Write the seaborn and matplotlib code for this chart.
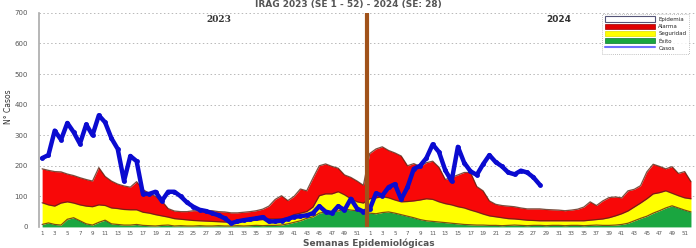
import numpy as np
import pandas as pd
import matplotlib
matplotlib.use("Agg")
import matplotlib.pyplot as plt
import seaborn as sns
from matplotlib.patches import Patch
from matplotlib.lines import Line2D

# canal endemico 2023 (SE 1-52) + 2024 (SE 1-52)
exito_2023 = [8, 13, 8, 6, 25, 30, 20, 10, 6, 15, 22, 10, 8, 6, 6, 8, 5, 4, 3, 5,
              6, 3, 4, 3, 3, 4, 3, 3, 4, 3, 3, 4, 3, 4, 5, 4, 5, 5, 6, 10,
              15, 20, 28, 33, 45, 49, 49, 52, 59, 55, 53, 52]
exito_2024 = [45, 43, 47, 49, 45, 40, 35, 30, 24, 20, 18, 16, 14, 12, 10, 8, 7, 6, 6, 5,
              5, 4, 5, 6, 5, 4, 5, 5, 4, 5, 5, 4, 5, 5, 4, 5, 6, 5, 5, 6,
              8, 12, 20, 28, 35, 45, 53, 62, 69, 62, 55, 49]
seguridad_2023 = [79, 72, 68, 78, 82, 78, 72, 68, 66, 72, 70, 62, 60, 57, 56, 56, 48, 45, 40, 36,
                  32, 27, 25, 23, 21, 20, 19, 18, 17, 16, 16, 17, 18, 20, 22, 24, 26, 26, 26, 30,
                  40, 45, 50, 65, 102, 108, 108, 115, 105, 92, 82, 78]
seguridad_2024 = [92, 95, 99, 95, 88, 82, 83, 85, 88, 92, 90, 82, 76, 72, 66, 62, 55, 49, 42, 36,
                  33, 30, 27, 26, 24, 22, 21, 20, 20, 20, 20, 20, 20, 20, 20, 22, 24, 26, 30, 36,
                  43, 52, 65, 78, 92, 108, 112, 118, 110, 102, 95, 92]
alarma_2023 = [190, 185, 181, 180, 173, 168, 161, 155, 150, 194, 165, 150, 140, 134, 130, 148, 122, 110, 100, 85,
               60, 52, 50, 50, 53, 53, 53, 53, 50, 49, 46, 46, 48, 50, 53, 58, 68, 90, 102, 86,
               100, 124, 118, 160, 200, 206, 198, 192, 170, 162, 150, 136]
alarma_2024 = [240, 255, 262, 250, 242, 232, 200, 207, 198, 210, 215, 195, 155, 162, 170, 178, 178, 132, 118, 85,
               74, 70, 68, 66, 62, 59, 59, 59, 57, 56, 55, 53, 55, 58, 65, 82, 70, 85, 96, 98,
               95, 118, 123, 135, 180, 205, 198, 190, 197, 175, 181, 148]

casos_2023 = [225, 235, 315, 285, 340, 310, 272, 335, 300, 365, 342, 290, 255, 150, 232, 215, 108, 108, 115, 85,
              115, 115, 100, 80, 66, 56, 52, 45, 38, 28, 12, 18, 22, 25, 28, 32, 18, 18, 20, 26,
              33, 35, 38, 45, 68, 50, 45, 68, 55, 92, 60, 50]
casos_2024 = [58, 110, 102, 130, 140, 90, 130, 190, 200, 225, 270, 245, 185, 150, 262, 210, 182, 170, 205, 235,
              212, 198, 178, 172, 184, 178, 162, 138]

semanas = list(range(1, 53))

canal = pd.DataFrame({
    "idx": np.arange(104),
    "exito": exito_2023 + exito_2024,
    "seguridad": seguridad_2023 + seguridad_2024,
    "alarma": alarma_2023 + alarma_2024,
})
casos = pd.DataFrame({"idx": np.arange(len(casos_2023) + len(casos_2024)),
                      "casos": casos_2023 + casos_2024})

sns.set_style("white")
plt.rcParams["font.family"] = ["DejaVu Sans"]

fig = plt.figure(figsize=(6.96, 2.48), dpi=100)
ax = fig.add_axes([0.056, 0.085, 0.944, 0.863])

edge = "#5a2410"
ax.fill_between(canal["idx"], 0, canal["exito"], color="#1aa640", lw=0)
ax.fill_between(canal["idx"], canal["exito"], canal["seguridad"], color="#ffff00", lw=0)
ax.fill_between(canal["idx"], canal["seguridad"], canal["alarma"], color="#f80808", lw=0)
for col in ["exito", "seguridad", "alarma"]:
    sns.lineplot(data=canal, x="idx", y=col, ax=ax, color=edge, lw=0.9, alpha=0.8)

sns.lineplot(data=casos, x="idx", y="casos", ax=ax, color="#0a0ad0", lw=3.2,
             marker="o", markersize=3.5, markeredgewidth=0)

ax.axvline(51.5, ymin=0, ymax=1, color="#a0521a", lw=3, zorder=5)

ax.set_xlim(-0.5, 103.8)
ax.set_ylim(0, 700)
ax.set_yticks(range(0, 701, 100))
ax.yaxis.grid(True, ls=(0, (1.5, 2.5)), color="#b8b8b8", lw=0.7)
ax.set_axisbelow(True)

ticks = [w - 1 for w in semanas if w % 2 == 1] + [52 + w - 1 for w in semanas if w % 2 == 1]
labels = [str(w) for w in semanas if w % 2 == 1] * 2
ax.set_xticks(ticks)
ax.set_xticklabels(labels, fontsize=4, color="#555555")
ax.tick_params(axis="y", labelsize=5, labelcolor="#555555", length=0, pad=8)
ax.tick_params(axis="x", length=0, pad=3)
ax.set_xlabel("")
ax.set_ylabel("")

for s in ["top", "right", "bottom"]:
    ax.spines[s].set_visible(False)
ax.spines["left"].set_color("#aaaaaa")
ax.spines["left"].set_linewidth(1.2)

ax.text(28, 680, "2023", fontsize=6.5, fontweight="bold", color="#333333", ha="center", va="center",
        family="DejaVu Serif")
ax.text(82, 680, "2024", fontsize=6.5, fontweight="bold", color="#333333", ha="center", va="center")

fig.text(0.50, 1.0, "IRAG 2023 (SE 1 - 52) - 2024 (SE: 28)", ha="center", va="top",
         fontsize=6.5, fontweight="bold", color="#555555")
fig.text(0.53, 0.02, "Semanas Epidemiológicas", ha="center", va="center",
         fontsize=6.5, fontweight="bold", color="#555555")
fig.text(0.012, 0.57, "N° Casos", ha="center", va="center", rotation=90,
         fontsize=5.5, color="#333333")

handles = [
    Patch(facecolor="white", edgecolor="#555577", lw=0.8, label="Epidemia"),
    Patch(facecolor="#e00000", edgecolor="#990000", lw=0.5, label="Alarma"),
    Patch(facecolor="#ffff00", edgecolor="#dddd00", lw=0.5, label="Seguridad"),
    Patch(facecolor="#1aa640", edgecolor="#0a7a30", lw=0.5, label="Éxito"),
    Line2D([0], [0], color="#7070ff", lw=1.5, label="Casos"),
]
leg = ax.legend(handles=handles, loc="upper right", bbox_to_anchor=(0.994, 1.01), fontsize=4,
                handlelength=9, handleheight=1.1, labelspacing=0.3, borderpad=0.5,
                handletextpad=0.6, frameon=True, fancybox=False)
leg.get_frame().set_linestyle((0, (1, 1.5)))
leg.get_frame().set_edgecolor("#999999")
leg.get_frame().set_linewidth(0.6)

fig.savefig("out.png", dpi=100)
